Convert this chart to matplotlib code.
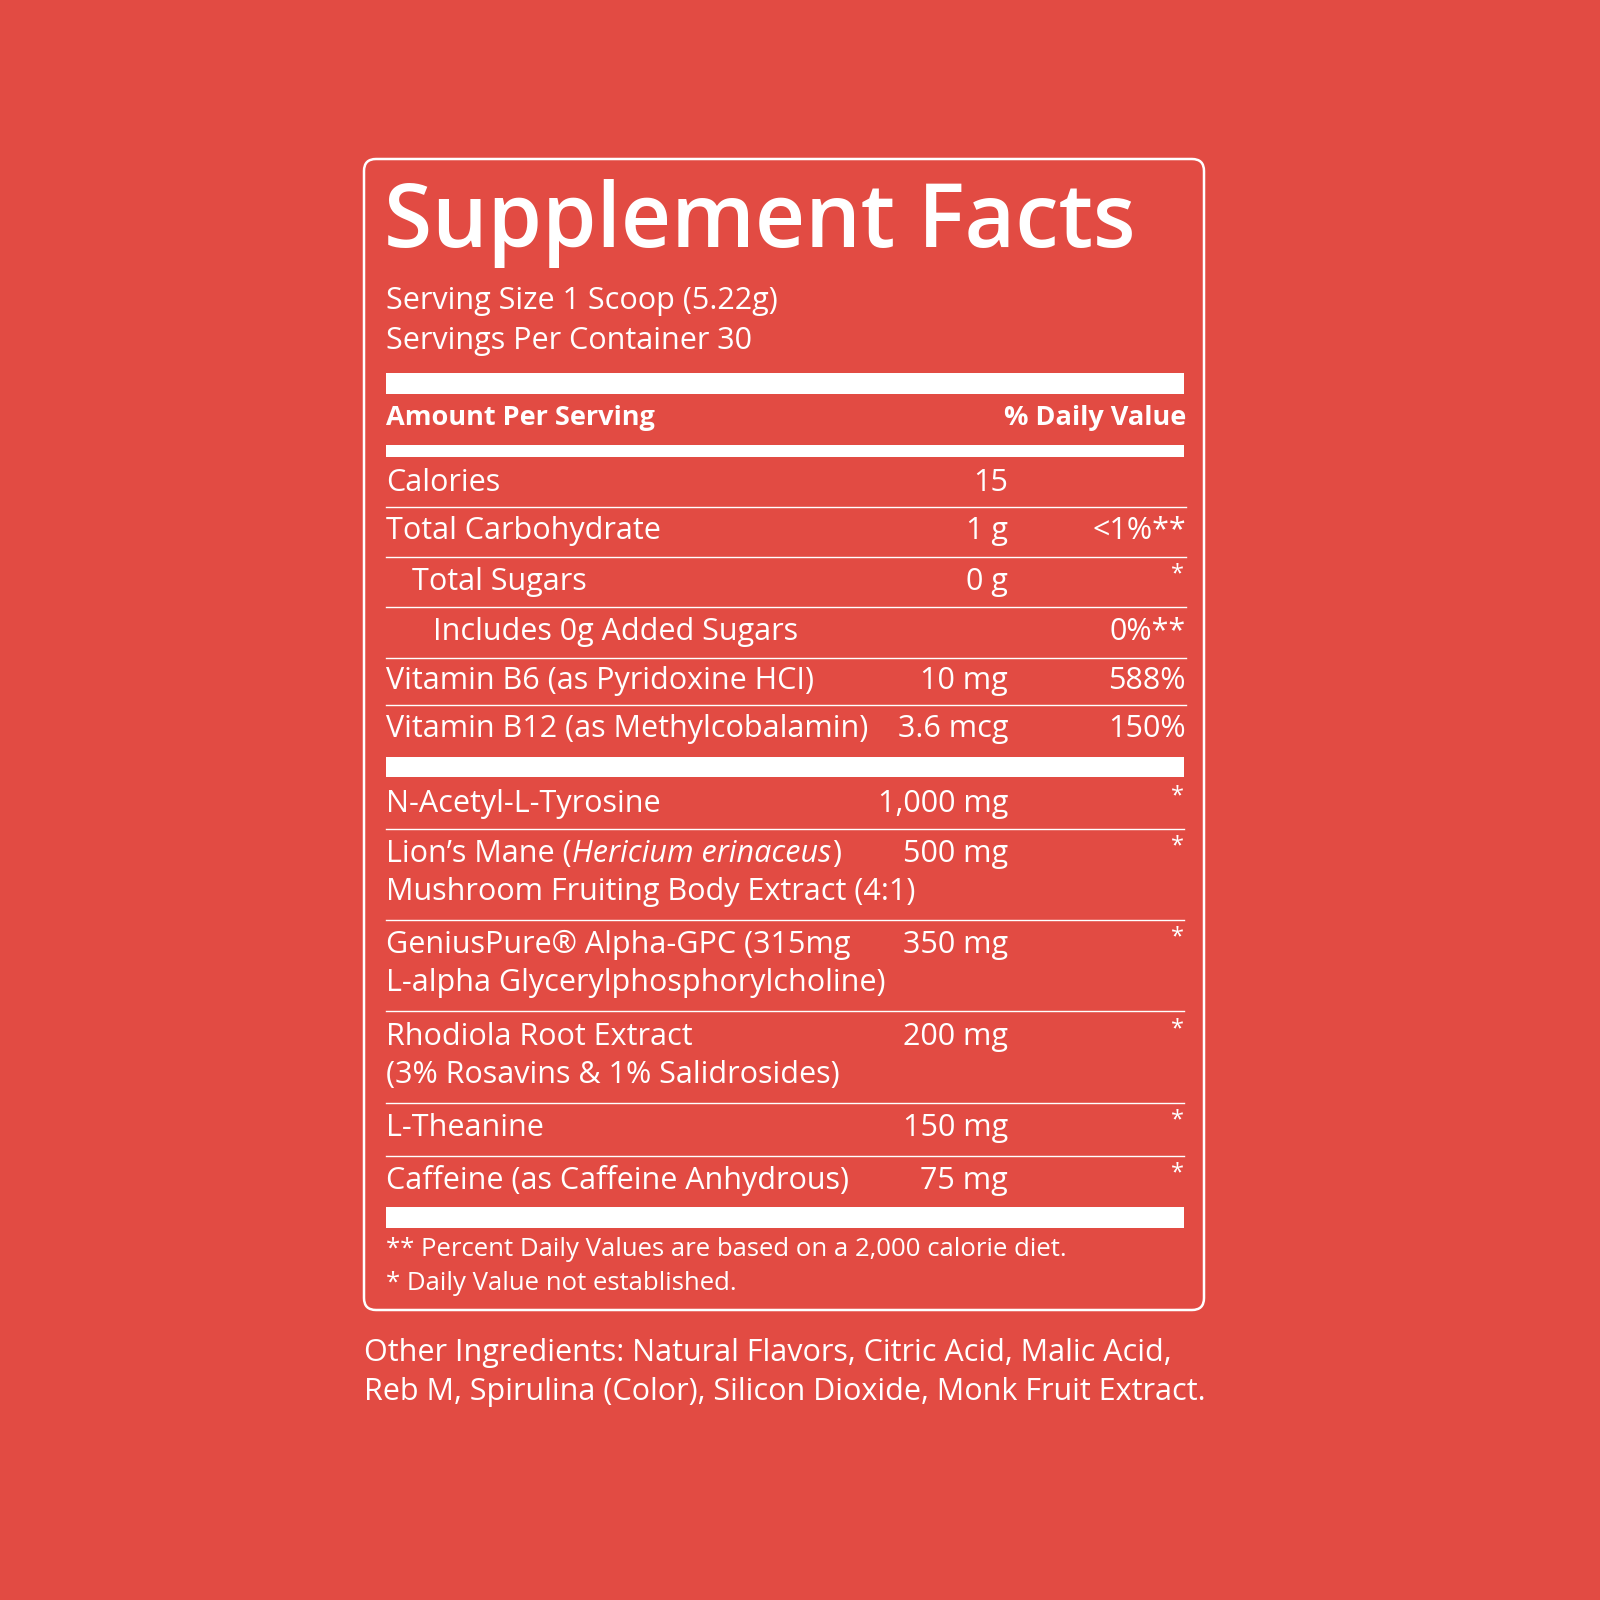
import matplotlib.pyplot as plt
from matplotlib.patches import FancyBboxPatch

plt.rcParams['font.family'] = ['Open Sans', 'DejaVu Sans']

bg = '#E24B43'
white = 'white'

title = 'Supplement Facts'
serving = ['Serving Size 1 Scoop (5.22g)', 'Servings Per Container 30']

# name, amount, daily value, indent, row y
nutrients = [
    ('Calories', '15', '', 386, 483),
    ('Total Carbohydrate', '1 g', '<1%**', 386, 531),
    ('Total Sugars', '0 g', '*', 412, 582),
    ('Includes 0g Added Sugars', '', '0%**', 433, 632),
    ('Vitamin B6 (as Pyridoxine HCI)', '10 mg', '588%', 386, 681),
    ('Vitamin B12 (as Methylcobalamin)', '3.6 mcg', '150%', 386, 729),
]
nutrient_lines = [507, 557, 607, 658, 705]

ingredients = [
    (['N-Acetyl-L-Tyrosine'], '1,000 mg', 804),
    (['Lion’s Mane (Hericium erinaceus)', 'Mushroom Fruiting Body Extract (4:1)'], '500 mg', 854),
    (['GeniusPure® Alpha-GPC (315mg', 'L-alpha Glycerylphosphorylcholine)'], '350 mg', 945),
    (['Rhodiola Root Extract', '(3% Rosavins & 1% Salidrosides)'], '200 mg', 1037),
    (['L-Theanine'], '150 mg', 1128),
    (['Caffeine (as Caffeine Anhydrous)'], '75 mg', 1181),
]
ingredient_lines = [829, 920, 1011, 1103, 1156]

footnotes = ['** Percent Daily Values are based on a 2,000 calorie diet.',
             '* Daily Value not established.']
other = ['Other Ingredients: Natural Flavors, Citric Acid, Malic Acid,',
         'Reb M, Spirulina (Color), Silicon Dioxide, Monk Fruit Extract.']

fig = plt.figure(figsize=(16, 16), dpi=100, facecolor=bg)
ax = fig.add_axes([0, 0, 1, 1])
ax.set_xlim(0, 1600)
ax.set_ylim(1600, 0)
ax.axis('off')
ax.set_facecolor(bg)

ax.add_patch(FancyBboxPatch((364, 159), 840, 1151, boxstyle='round,pad=0,rounding_size=12',
                            fill=False, edgecolor=white, lw=1.8))

L, R, AMT, DV = 386, 1184, 1008, 1186
fs = 22

ax.text(L - 2, 224, title, fontsize=63, fontweight='semibold', color=white, va='center')
for i, s in enumerate(serving):
    ax.text(L, 301 + 40 * i, s, fontsize=fs, color=white, va='center')

def bar(y0, y1):
    ax.fill_between([L, R], y0, y1, color=white, lw=0)

def star(y):
    ax.text(DV - 2, y - 8, '*', fontsize=17, color=white, va='center', ha='right')

bar(373, 394)
ax.text(L, 418, 'Amount Per Serving', fontsize=19.5, fontweight='bold', color=white, va='center')
ax.text(DV, 418, '% Daily Value', fontsize=19.5, fontweight='bold', color=white, va='center', ha='right')
bar(445, 457)

for name, amt, dv, x, y in nutrients:
    ax.text(x, y, name, fontsize=fs, color=white, va='center')
    ax.text(AMT, y, amt, fontsize=fs, color=white, va='center', ha='right')
    if dv == '*':
        star(y)
    else:
        ax.text(DV, y, dv, fontsize=fs, color=white, va='center', ha='right')
for y in nutrient_lines:
    ax.plot([L, DV], [y, y], color=white, lw=1)

bar(757, 777)

fig.canvas.draw()
r = fig.canvas.get_renderer()
for lines, amt, y in ingredients:
    for j, s in enumerate(lines):
        yy = y + 38 * j
        if 'Hericium' in s:
            t = ax.text(L, yy, 'Lion’s Mane (', fontsize=fs, color=white, va='center')
            x1 = t.get_window_extent(r).x1
            t2 = ax.text(x1, yy, 'Hericium erinaceus', fontsize=fs, style='italic', color=white, va='center')
            x2 = t2.get_window_extent(r).x1
            ax.text(x2 + 1, yy, ')', fontsize=fs, color=white, va='center')
        else:
            ax.text(L, yy, s, fontsize=fs, color=white, va='center')
    ax.text(AMT, y, amt, fontsize=fs, color=white, va='center', ha='right')
    star(y)
for y in ingredient_lines:
    ax.plot([L, R], [y, y], color=white, lw=1)

bar(1207, 1228)
for i, s in enumerate(footnotes):
    ax.text(L, 1250 + 34 * i, s, fontsize=18.5, color=white, va='center')
for i, s in enumerate(other):
    ax.text(364, 1353 + 39 * i, s, fontsize=fs, color=white, va='center')

fig.savefig('out.png', dpi=100, facecolor=bg)
